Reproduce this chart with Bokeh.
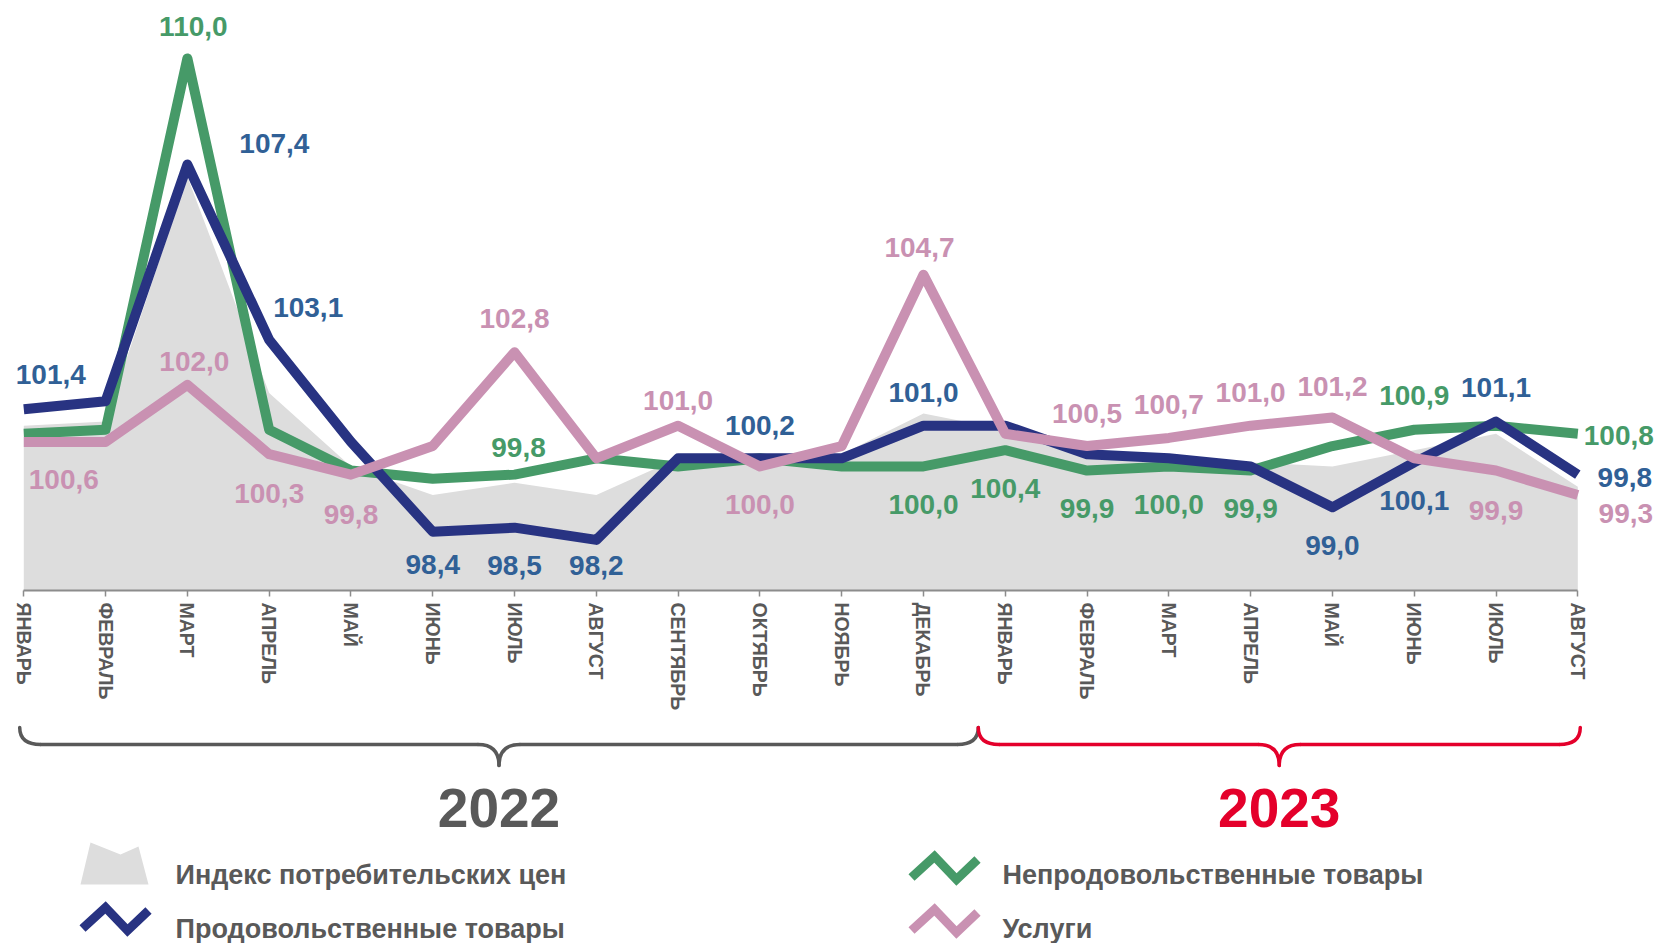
from bokeh.plotting import figure
from bokeh.models import Range1d, FixedTicker
from bokeh.layouts import column
from bokeh.core.properties import value
from bokeh.embed import file_html
from bokeh.resources import INLINE

# ---------------- data ----------------
months = ["ЯНВАРЬ", "ФЕВРАЛЬ", "МАРТ", "АПРЕЛЬ", "МАЙ", "ИЮНЬ", "ИЮЛЬ", "АВГУСТ",
          "СЕНТЯБРЬ", "ОКТЯБРЬ", "НОЯБРЬ", "ДЕКАБРЬ",
          "ЯНВАРЬ", "ФЕВРАЛЬ", "МАРТ", "АПРЕЛЬ", "МАЙ", "ИЮНЬ", "ИЮЛЬ", "АВГУСТ"]
years = ["2022", "2023"]
months_per_year = [12, 8]

cpi = [101.0, 101.1, 107.1, 101.8, 100.0, 99.3, 99.6, 99.3, 100.2, 100.2, 100.3, 101.3,
       100.9, 100.4, 100.2, 100.1, 100.0, 100.4, 100.8, 99.5]
food = [101.4, 101.6, 107.4, 103.1, 100.6, 98.4, 98.5, 98.2, 100.2, 100.2, 100.2, 101.0,
        101.0, 100.3, 100.2, 100.0, 99.0, 100.1, 101.1, 99.8]
nonfood = [100.8, 100.9, 110.0, 100.9, 99.9, 99.7, 99.8, 100.2, 100.0, 100.2, 100.0, 100.0,
           100.4, 99.9, 100.0, 99.9, 100.5, 100.9, 101.0, 100.8]
services = [100.6, 100.6, 102.0, 100.3, 99.8, 100.5, 102.8, 100.2, 101.0, 100.0, 100.5, 104.7,
            100.8, 100.5, 100.7, 101.0, 101.2, 100.2, 99.9, 99.3]

legend_names = ["Индекс потребительских цен", "Продовольственные товары",
                "Непродовольственные товары", "Услуги"]

# which points carry a value label, and where the label sits (pixel offsets)
food_lbl_idx = [0, 2, 3, 5, 6, 7, 9, 11, 16, 17, 18, 19]
food_lbl_dx = [27, 87, 39, 0, 0, 0, 0, 0, 0, 0, 0, 47]
food_lbl_dy = [-35, -21, -32, 33, 38, 26, -33, -33, 38, 38, -34, 3]

nonfood_lbl_idx = [2, 6, 11, 12, 13, 14, 15, 17, 19]
nonfood_lbl_dx = [6, 4, 0, 0, 0, 0, 0, 0, 41]
nonfood_lbl_dy = [-32, -27, 38, 38, 38, 38, 38, -34, 2]

services_lbl_idx = [0, 2, 3, 4, 6, 8, 9, 11, 13, 14, 15, 16, 18, 19]
services_lbl_dx = [40, 7, 0, 0, 0, 0, 0, -4, 0, 0, 0, 0, 0, 48]
services_lbl_dy = [38, -23, 39, 40, -34, -25, 38, -27, -33, -33, -33, -31, 40, 18]

# ---------------- styles ----------------
C_GRAY_AREA = "#dddddd"
C_FOOD = "#283382"
C_FOOD_LBL = "#306096"
C_NONFOOD = "#469a68"
C_SERV = "#c991b2"
C_TEXT = "#595959"
C_RED = "#e4002b"
FONT = "Liberation Sans"

W = 1658
H1 = 716
H2 = 227
FRAME_H = 590
X0 = 23.3     # px of first month
DX = 81.79    # px per month
Y_MIN, Y_MAX = 96.96, 111.42

n = len(months)
xs = list(range(n))


def fmt(v):
    return f"{v:.1f}".replace(".", ",")


def px2x(px):
    return (px - X0) / DX


p = figure(width=W, height=H1, output_backend="svg", toolbar_location=None,
           x_range=Range1d(px2x(0), px2x(W)), y_range=Range1d(Y_MIN, Y_MAX),
           y_axis_location=None, min_border_left=0, min_border_right=0,
           min_border_top=0, min_border_bottom=H1 - FRAME_H)
p.outline_line_color = None
p.grid.visible = False
p.background_fill_color = "white"
p.border_fill_color = "white"

ax = p.xaxis[0]
ax.ticker = FixedTicker(ticks=xs)
ax.major_label_overrides = {i: m for i, m in enumerate(months)}
ax.bounds = (0, n - 1)
ax.axis_line_color = "#8c8c8c"
ax.axis_line_width = 2
ax.major_tick_line_color = "#8c8c8c"
ax.major_tick_line_width = 1.5
ax.major_tick_out = 6
ax.major_tick_in = 0
ax.minor_tick_line_color = None
ax.major_label_orientation = "vertical"
ax.major_label_standoff = 6
ax.major_label_text_font = FONT
ax.major_label_text_font_style = "bold"
ax.major_label_text_font_size = "19.5px"
ax.major_label_text_color = C_TEXT

# CPI area
p.varea(x=xs, y1=[Y_MIN] * n, y2=cpi, fill_color=C_GRAY_AREA)

# lines
for series, col in [(nonfood, C_NONFOOD), (food, C_FOOD), (services, C_SERV)]:
    p.line(xs, series, line_color=col, line_width=10, line_join="round", line_cap="butt")

# value labels
for series, idx, dxs, dys, col in [
    (food, food_lbl_idx, food_lbl_dx, food_lbl_dy, C_FOOD_LBL),
    (nonfood, nonfood_lbl_idx, nonfood_lbl_dx, nonfood_lbl_dy, C_NONFOOD),
    (services, services_lbl_idx, services_lbl_dx, services_lbl_dy, C_SERV),
]:
    p.text(x=idx, y=[series[i] for i in idx], text=[fmt(series[i]) for i in idx],
           x_offset=dxs, y_offset=dys, text_color=col,
           text_font=value(FONT), text_font_style="bold", text_font_size="28px",
           text_align="center", text_baseline="middle")

# ---------------- lower panel: braces, years, legend ----------------
p2 = figure(width=W, height=H2, output_backend="svg", toolbar_location=None,
            x_range=p.x_range, y_range=Range1d(H2, 0),
            x_axis_location=None, y_axis_location=None,
            min_border_left=0, min_border_right=0, min_border_top=0, min_border_bottom=0)
p2.outline_line_color = None
p2.grid.visible = False

# brace limits in month-index units: first month, year boundary, last month
brace_bounds = [0 - 0.05, months_per_year[0] - 1 + 0.67, n - 1 + 0.03]
r = 21 / DX
yt, yf, ytip = 11, 28, 49
year_cols = [C_TEXT, C_RED]
for k, (yr, col) in enumerate(zip(years, year_cols)):
    start, end = brace_bounds[k], brace_bounds[k + 1]
    xc = (start + end) / 2
    kw = dict(line_color=col, line_width=3.5, line_cap="round")
    p2.quadratic(x0=[start], y0=[yt], x1=[start + r], y1=[yf], cx=[start], cy=[yf], **kw)
    p2.segment(x0=[start + r], y0=[yf], x1=[xc - r], y1=[yf], **kw)
    p2.quadratic(x0=[xc - r], y0=[yf], x1=[xc], y1=[ytip], cx=[xc], cy=[yf], **kw)
    p2.quadratic(x0=[xc], y0=[ytip], x1=[xc + r], y1=[yf], cx=[xc], cy=[yf], **kw)
    p2.segment(x0=[xc + r], y0=[yf], x1=[end - r], y1=[yf], **kw)
    p2.quadratic(x0=[end - r], y0=[yf], x1=[end], y1=[yt], cx=[end], cy=[yf], **kw)
    p2.text(x=[xc], y=[91], text=[yr], text_color=col,
            text_font=value(FONT), text_font_style="bold",
            text_font_size="55px", text_align="center", text_baseline="middle")

# legend icons
p2.patch([px2x(v) for v in (80, 90, 120, 138, 148)], [168, 126, 138, 130, 168],
         fill_color=C_GRAY_AREA, line_color=None)
zig_x_left = [px2x(v) for v in (82, 105, 127, 148)]
zig_x_right = [px2x(v) for v in (911, 934, 956, 977)]
p2.line(zig_x_left, [212, 191, 214, 194], line_color=C_FOOD, line_width=9,
        line_join="miter", line_cap="butt")
p2.line(zig_x_right, [161, 140, 163, 143], line_color=C_NONFOOD, line_width=9,
        line_join="miter", line_cap="butt")
p2.line(zig_x_right, [214, 193, 216, 196], line_color=C_SERV, line_width=9,
        line_join="miter", line_cap="butt")

p2.text(x=[px2x(175), px2x(175), px2x(1002), px2x(1002)], y=[158, 212, 158, 212],
        text=legend_names, text_color=C_TEXT, text_font=value(FONT),
        text_font_style="bold", text_font_size="27px",
        text_align="left", text_baseline="middle")

layout = column(p, p2, spacing=0)
open("out.html", "w").write(file_html(layout, INLINE))
